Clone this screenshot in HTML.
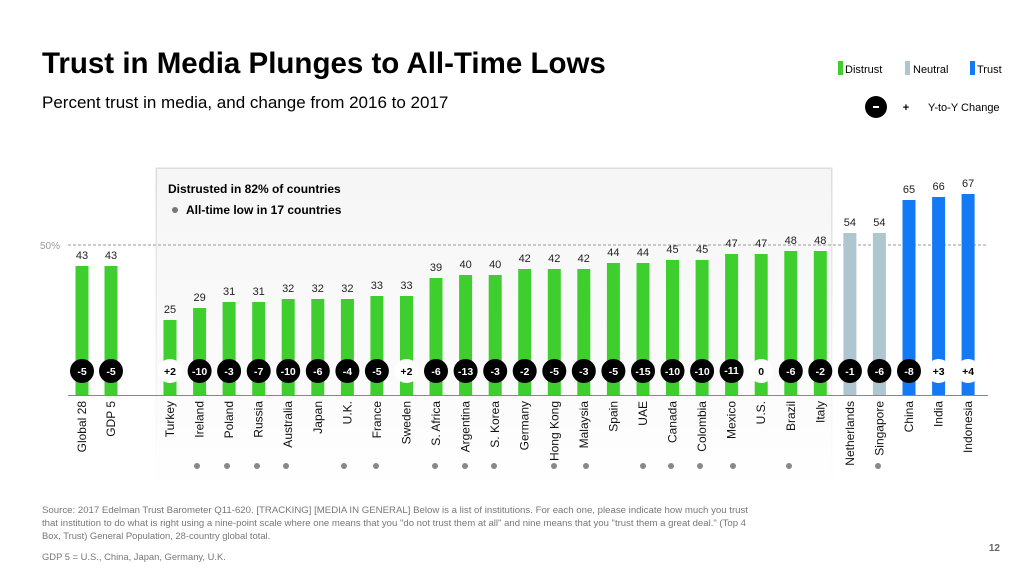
<!DOCTYPE html>
<html><head><meta charset="utf-8"><style>
body{margin:0;width:1024px;height:576px;background:#fff;overflow:hidden;font-family:"Liberation Sans",Arial,sans-serif}
svg{position:absolute;left:0;top:0}
</style></head><body>
<svg width="1024" height="576" viewBox="0 0 1024 576" font-family="Liberation Sans, Arial, sans-serif">
<defs>
<linearGradient id="pg" x1="0" y1="0" x2="0" y2="1"><stop offset="0" stop-color="#f6f6f6"/><stop offset="0.7" stop-color="#fbfbfb"/><stop offset="1" stop-color="#ffffff"/></linearGradient>
<linearGradient id="sh" x1="0" y1="0" x2="0" y2="1"><stop offset="0" stop-color="#dddddd"/><stop offset="1" stop-color="#ffffff"/></linearGradient>
</defs>
<text x="42" y="73" font-size="29.5" font-weight="bold" fill="#000">Trust in Media Plunges to All-Time Lows</text>
<text x="42" y="108" font-size="17" fill="#000">Percent trust in media, and change from 2016 to 2017</text>
<rect x="838" y="61" width="5" height="14" fill="#3ecf2e"/><text x="845" y="73" font-size="11">Distrust</text>
<rect x="905" y="61" width="5" height="14" fill="#adc6d0"/><text x="913" y="73" font-size="11">Neutral</text>
<rect x="970" y="61" width="5" height="14" fill="#1479f5"/><text x="977" y="73" font-size="11">Trust</text>
<circle cx="876" cy="107" r="11" fill="#000"/><rect x="873" y="106" width="6" height="2" fill="#fff"/>
<text x="906" y="111" font-size="11" font-weight="bold" text-anchor="middle">+</text>
<text x="928" y="111" font-size="11">Y-to-Y Change</text>
<!-- panel -->
<rect x="155.5" y="167.5" width="677" height="320" fill="url(#sh)"/>
<rect x="157" y="169" width="674" height="318" fill="url(#pg)"/>
<text x="168" y="193" font-size="12" font-weight="bold">Distrusted in 82% of countries</text>
<circle cx="175" cy="210" r="3" fill="#777"/>
<text x="186" y="214" font-size="12" font-weight="bold">All-time low in 17 countries</text>
<line x1="68" y1="245" x2="988" y2="245" stroke="#999" stroke-dasharray="3,2" stroke-width="1"/>
<text x="40" y="249" font-size="10" fill="#999">50%</text>
<line x1="68" y1="395.5" x2="988" y2="395.5" stroke="#888" stroke-width="1"/>
<g font-size="11" text-anchor="middle" fill="#222">
<g fill="#3ecf2e">
<rect x="75.5" y="266" width="13" height="129"/><rect x="104.5" y="266" width="13" height="129"/>
<rect x="163.5" y="320" width="13" height="75"/>
<rect x="193.1" y="308" width="13" height="87"/>
<rect x="222.6" y="302" width="13" height="93"/>
<rect x="252.2" y="302" width="13" height="93"/>
<rect x="281.7" y="299" width="13" height="96"/>
<rect x="311.3" y="299" width="13" height="96"/>
<rect x="340.9" y="299" width="13" height="96"/>
<rect x="370.4" y="296" width="13" height="99"/>
<rect x="400" y="296" width="13" height="99"/>
<rect x="429.5" y="278" width="13" height="117"/>
<rect x="459.1" y="275" width="13" height="120"/>
<rect x="488.7" y="275" width="13" height="120"/>
<rect x="518.2" y="269" width="13" height="126"/>
<rect x="547.8" y="269" width="13" height="126"/>
<rect x="577.3" y="269" width="13" height="126"/>
<rect x="606.9" y="263" width="13" height="132"/>
<rect x="636.5" y="263" width="13" height="132"/>
<rect x="666" y="260" width="13" height="135"/>
<rect x="695.6" y="260" width="13" height="135"/>
<rect x="725.1" y="254" width="13" height="141"/>
<rect x="754.7" y="254" width="13" height="141"/>
<rect x="784.3" y="251" width="13" height="144"/>
<rect x="813.8" y="251" width="13" height="144"/>
</g>
<rect x="843.4" y="233" width="13" height="162" fill="#adc6d0"/>
<rect x="872.9" y="233" width="13" height="162" fill="#adc6d0"/>
<rect x="902.5" y="200" width="13" height="195" fill="#1479f5"/>
<rect x="932.1" y="197" width="13" height="198" fill="#1479f5"/>
<rect x="961.6" y="194" width="13" height="201" fill="#1479f5"/>
<text x="82" y="259">43</text><text x="111" y="259">43</text>
<text x="170" y="313">25</text><text x="199.6" y="301">29</text><text x="229.1" y="295">31</text><text x="258.7" y="295">31</text>
<text x="288.2" y="292">32</text><text x="317.8" y="292">32</text><text x="347.4" y="292">32</text><text x="376.9" y="289">33</text>
<text x="406.5" y="289">33</text><text x="436" y="271">39</text><text x="465.6" y="268">40</text><text x="495.2" y="268">40</text>
<text x="524.7" y="262">42</text><text x="554.3" y="262">42</text><text x="583.8" y="262">42</text><text x="613.4" y="256">44</text>
<text x="643" y="256">44</text><text x="672.5" y="253">45</text><text x="702.1" y="253">45</text><text x="731.6" y="247">47</text>
<text x="761.2" y="247">47</text><text x="790.8" y="244">48</text><text x="820.3" y="244">48</text><text x="849.9" y="226">54</text>
<text x="879.4" y="226">54</text><text x="909" y="193">65</text><text x="938.6" y="190">66</text><text x="968.1" y="187">67</text>
</g>
<g fill="#000"><circle cx="82" cy="371" r="12"/><circle cx="111" cy="371" r="12"/>
<circle cx="199.6" cy="371" r="12"/><circle cx="229.1" cy="371" r="12"/><circle cx="258.7" cy="371" r="12"/><circle cx="288.2" cy="371" r="12"/>
<circle cx="317.8" cy="371" r="12"/><circle cx="347.4" cy="371" r="12"/><circle cx="376.9" cy="371" r="12"/>
<circle cx="436" cy="371" r="12"/><circle cx="465.6" cy="371" r="12"/><circle cx="495.2" cy="371" r="12"/><circle cx="524.7" cy="371" r="12"/>
<circle cx="554.3" cy="371" r="12"/><circle cx="583.8" cy="371" r="12"/><circle cx="613.4" cy="371" r="12"/><circle cx="643" cy="371" r="12"/>
<circle cx="672.5" cy="371" r="12"/><circle cx="702.1" cy="371" r="12"/><circle cx="731.6" cy="371" r="12"/>
<circle cx="790.8" cy="371" r="12"/><circle cx="820.3" cy="371" r="12"/><circle cx="849.9" cy="371" r="12"/><circle cx="879.4" cy="371" r="12"/><circle cx="909" cy="371" r="12"/></g>
<g fill="#fff"><circle cx="170" cy="371" r="12"/><circle cx="406.5" cy="371" r="12"/><circle cx="761.2" cy="371" r="12"/><circle cx="938.6" cy="371" r="12"/><circle cx="968.1" cy="371" r="12"/></g>
<g font-size="10.5" font-weight="bold" text-anchor="middle" fill="#fff">
<text x="82" y="375">-5</text><text x="111" y="375">-5</text>
<text x="199.6" y="375">-10</text><text x="229.1" y="375">-3</text><text x="258.7" y="375">-7</text><text x="288.2" y="375">-10</text>
<text x="317.8" y="375">-6</text><text x="347.4" y="375">-4</text><text x="376.9" y="375">-5</text>
<text x="436" y="375">-6</text><text x="465.6" y="375">-13</text><text x="495.2" y="375">-3</text><text x="524.7" y="375">-2</text>
<text x="554.3" y="375">-5</text><text x="583.8" y="375">-3</text><text x="613.4" y="375">-5</text><text x="643" y="375">-15</text>
<text x="672.5" y="375">-10</text><text x="702.1" y="375">-10</text><text x="731.6" y="374">-11</text>
<text x="790.8" y="375">-6</text><text x="820.3" y="375">-2</text><text x="849.9" y="375">-1</text><text x="879.4" y="375">-6</text><text x="909" y="375">-8</text>
</g>
<g font-size="10.5" font-weight="bold" text-anchor="middle" fill="#000">
<text x="170" y="375">+2</text><text x="406.5" y="375">+2</text><text x="761.2" y="375">0</text><text x="938.6" y="375">+3</text><text x="968.1" y="375">+4</text>
</g>
<g font-size="12" text-anchor="end" fill="#111">
<text transform="translate(86,401) rotate(-90)">Global 28</text>
<text transform="translate(115,401) rotate(-90)">GDP 5</text>
<text transform="translate(174,401) rotate(-90)">Turkey</text>
<text transform="translate(203.6,401) rotate(-90)">Ireland</text>
<text transform="translate(233.1,401) rotate(-90)">Poland</text>
<text transform="translate(262.7,401) rotate(-90)">Russia</text>
<text transform="translate(292.2,401) rotate(-90)">Australia</text>
<text transform="translate(321.8,401) rotate(-90)">Japan</text>
<text transform="translate(351.4,401) rotate(-90)">U.K.</text>
<text transform="translate(380.9,401) rotate(-90)">France</text>
<text transform="translate(410.5,401) rotate(-90)">Sweden</text>
<text transform="translate(440,401) rotate(-90)">S. Africa</text>
<text transform="translate(469.6,401) rotate(-90)">Argentina</text>
<text transform="translate(499.2,401) rotate(-90)">S. Korea</text>
<text transform="translate(528.7,401) rotate(-90)">Germany</text>
<text transform="translate(558.3,401) rotate(-90)">Hong Kong</text>
<text transform="translate(587.8,401) rotate(-90)">Malaysia</text>
<text transform="translate(617.4,401) rotate(-90)">Spain</text>
<text transform="translate(647,401) rotate(-90)">UAE</text>
<text transform="translate(676.5,401) rotate(-90)">Canada</text>
<text transform="translate(706.1,401) rotate(-90)">Colombia</text>
<text transform="translate(735.6,401) rotate(-90)">Mexico</text>
<text transform="translate(765.2,401) rotate(-90)">U.S.</text>
<text transform="translate(794.8,401) rotate(-90)">Brazil</text>
<text transform="translate(824.3,401) rotate(-90)">Italy</text>
<text transform="translate(853.9,401) rotate(-90)">Netherlands</text>
<text transform="translate(883.4,401) rotate(-90)">Singapore</text>
<text transform="translate(913,401) rotate(-90)">China</text>
<text transform="translate(942.6,401) rotate(-90)">India</text>
<text transform="translate(972.1,401) rotate(-90)">Indonesia</text>
</g>
<g fill="#888">
<circle cx="197" cy="466" r="3"/><circle cx="227" cy="466" r="3"/><circle cx="257" cy="466" r="3"/><circle cx="286" cy="466" r="3"/>
<circle cx="344" cy="466" r="3"/><circle cx="376" cy="466" r="3"/><circle cx="435" cy="466" r="3"/><circle cx="465" cy="466" r="3"/>
<circle cx="494" cy="466" r="3"/><circle cx="554" cy="466" r="3"/><circle cx="586" cy="466" r="3"/><circle cx="643" cy="466" r="3"/>
<circle cx="671" cy="466" r="3"/><circle cx="700" cy="466" r="3"/><circle cx="733" cy="466" r="3"/><circle cx="789" cy="466" r="3"/>
<circle cx="878" cy="466" r="3"/>
</g>
<g font-size="9.4" fill="#777">
<text x="42" y="513" textLength="706" lengthAdjust="spacingAndGlyphs">Source: 2017 Edelman Trust Barometer Q11-620. [TRACKING] [MEDIA IN GENERAL] Below is a list of institutions. For each one, please indicate how much you trust</text>
<text x="42" y="526" textLength="704" lengthAdjust="spacingAndGlyphs">that institution to do what is right using a nine-point scale where one means that you "do not trust them at all" and nine means that you "trust them a great deal." (Top 4</text>
<text x="42" y="539">Box, Trust) General Population, 28-country global total.</text>
<text x="42" y="560">GDP 5 = U.S., China, Japan, Germany, U.K.</text>
</g>
<text x="1000" y="551" font-size="10" font-weight="bold" fill="#666" text-anchor="end">12</text>
</svg>
</body></html>
